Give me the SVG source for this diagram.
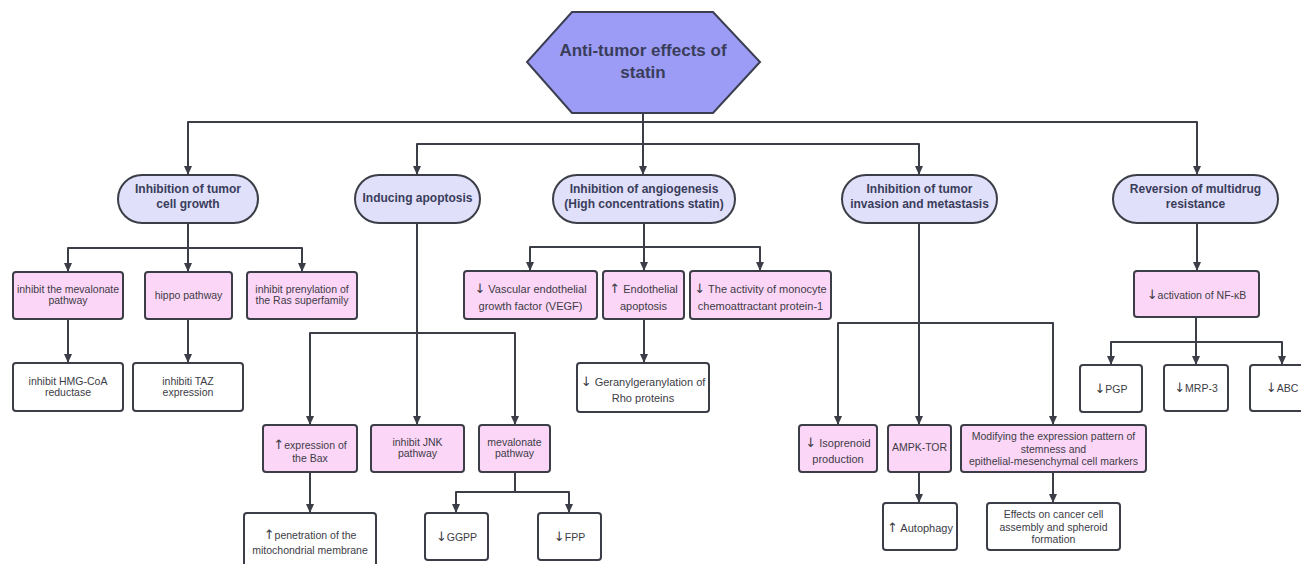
<svg xmlns="http://www.w3.org/2000/svg" width="1301" height="564" viewBox="0 0 1301 564">
<defs>
<marker id="ah" markerUnits="userSpaceOnUse" markerWidth="10" markerHeight="10" viewBox="0 0 10 10" refX="9" refY="5" orient="auto">
<path d="M0,1 L9,5 L0,9 Z" fill="#3b3e47"/>
</marker>
<style>
.c{fill:none;stroke:#3b3e47;stroke-width:2;stroke-linejoin:round}
.a{marker-end:url(#ah)}
.hex{fill:#9c9cf6;stroke:#3b3e50;stroke-width:2}
.l1{fill:#e0e0fa;stroke:#3b3e47;stroke-width:2}
.pk{fill:#fcd6f7;stroke:#3b3e47;stroke-width:2}
.wh{fill:#ffffff;stroke:#3b3e47;stroke-width:2}
.tt{font-family:"Liberation Sans",Arial,sans-serif;font-weight:bold;font-size:17px;fill:#3a3d5a;text-anchor:middle}
.t1{font-family:"Liberation Sans",Arial,sans-serif;font-weight:bold;font-size:12px;fill:#3a3d5a;text-anchor:middle}
.t{font-family:"Liberation Sans",Arial,sans-serif;font-size:10.5px;fill:#3c3c46;text-anchor:middle}
.tb{font-family:"Liberation Sans",Arial,sans-serif;font-size:11px;fill:#3c3c46;text-anchor:middle}
.ar{font-family:"DejaVu Sans",sans-serif;font-size:13px;fill:#3c3c46}
</style>
</defs>
<rect width="1301" height="564" fill="#ffffff"/>

<g id="connectors">
<path class="c a" d="M643,113 V175"/>
<path class="c a" d="M643,122 H188 V175"/>
<path class="c a" d="M643,122 H1197 V175"/>
<path class="c a" d="M643,144 H417 V175"/>
<path class="c a" d="M643,144 H919 V175"/>

<path class="c a" d="M188,223 V272"/>
<path class="c a" d="M188,248 H68 V272"/>
<path class="c a" d="M188,248 H302 V272"/>
<path class="c a" d="M68,319 V363"/>
<path class="c a" d="M188,319 V363"/>

<path class="c a" d="M417,223 V425"/>
<path class="c a" d="M417,333 H310 V425"/>
<path class="c a" d="M417,333 H515 V425"/>
<path class="c a" d="M310,472 V513"/>
<path class="c" d="M515,472 V492"/>
<path class="c a" d="M515,492 H456 V513"/>
<path class="c a" d="M515,492 H569 V513"/>

<path class="c a" d="M644,223 V271"/>
<path class="c a" d="M644,247 H530 V271"/>
<path class="c a" d="M644,247 H760 V271"/>
<path class="c a" d="M644,319 V363"/>

<path class="c a" d="M919,223 V425"/>
<path class="c a" d="M919,323 H838 V425"/>
<path class="c a" d="M919,323 H1053 V425"/>
<path class="c a" d="M919,472 V503"/>
<path class="c a" d="M1053,472 V503"/>

<path class="c a" d="M1197,223 V271"/>
<path class="c a" d="M1196,317 V365"/>
<path class="c a" d="M1196,342 H1111 V365"/>
<path class="c a" d="M1196,342 H1282 V365"/>
</g>

<g id="root">
<polygon class="hex" points="572,12 713,12 760,62 713,113 572,113 527,62"/>
<text class="tt" x="643" y="56">Anti-tumor effects of</text>
<text class="tt" x="643" y="78">statin</text>
</g>

<g id="n-growth">
<rect class="l1" x="118" y="175" width="140" height="48" rx="24"/>
<text class="t1" x="188" y="193">Inhibition of tumor</text>
<text class="t1" x="188" y="208">cell growth</text>
</g>
<g id="n-apoptosis">
<rect class="l1" x="355" y="175" width="125" height="48" rx="24"/>
<text class="t1" x="417.5" y="202">Inducing apoptosis</text>
</g>
<g id="n-angio">
<rect class="l1" x="553" y="175" width="182" height="48" rx="24"/>
<text class="t1" x="644" y="193">Inhibition of angiogenesis</text>
<text class="t1" x="644" y="208">(High concentrations statin)</text>
</g>
<g id="n-invasion">
<rect class="l1" x="842" y="175" width="155" height="48" rx="24"/>
<text class="t1" x="919.5" y="193">Inhibition of tumor</text>
<text class="t1" x="919.5" y="208">invasion and metastasis</text>
</g>
<g id="n-mdr">
<rect class="l1" x="1113" y="175" width="165" height="48" rx="24"/>
<text class="t1" x="1195.5" y="193">Reversion of multidrug</text>
<text class="t1" x="1195.5" y="208">resistance</text>
</g>

<g id="n-mevalonate">
<rect class="pk" x="13" y="272" width="110" height="47" rx="3"/>
<text class="t" x="68" y="293">inhibit the mevalonate</text>
<text class="t" x="68" y="304">pathway</text>
</g>
<g id="n-hippo">
<rect class="pk" x="145" y="272" width="87" height="47" rx="3"/>
<text class="t" x="188.5" y="299">hippo pathway</text>
</g>
<g id="n-prenyl">
<rect class="pk" x="247" y="272" width="110" height="47" rx="3"/>
<text class="t" x="302" y="293">inhibit prenylation of</text>
<text class="t" x="302" y="304">the Ras superfamily</text>
</g>
<g id="n-hmg">
<rect class="wh" x="13" y="363" width="110" height="48" rx="3"/>
<text class="t" x="68" y="385">inhibit HMG-CoA</text>
<text class="t" x="68" y="395.5">reductase</text>
</g>
<g id="n-taz">
<rect class="wh" x="133" y="363" width="110" height="48" rx="3"/>
<text class="t" x="188" y="385">inhibiti TAZ</text>
<text class="t" x="188" y="395.5">expression</text>
</g>

<g id="n-bax">
<rect class="pk" x="263" y="425" width="94" height="47" rx="3"/>
<text class="t" x="310" y="449"><tspan class="ar">↑</tspan>expression of</text>
<text class="t" x="310" y="462">the Bax</text>
</g>
<g id="n-jnk">
<rect class="pk" x="371" y="425" width="93" height="47" rx="3"/>
<text class="t" x="417.5" y="446">inhibit JNK</text>
<text class="t" x="417.5" y="457">pathway</text>
</g>
<g id="n-mevpath">
<rect class="pk" x="479" y="425" width="71" height="47" rx="3"/>
<text class="t" x="514.5" y="446">mevalonate</text>
<text class="t" x="514.5" y="457">pathway</text>
</g>
<g id="n-penetration">
<rect class="wh" x="244" y="513" width="132" height="56" rx="3"/>
<text class="t" x="310" y="539"><tspan class="ar">↑</tspan>penetration of the</text>
<text class="t" x="310" y="554">mitochondrial membrane</text>
</g>
<g id="n-ggpp">
<rect class="wh" x="425" y="513" width="63" height="47" rx="3"/>
<text class="t" x="456.5" y="541"><tspan class="ar">↓</tspan>GGPP</text>
</g>
<g id="n-fpp">
<rect class="wh" x="538" y="513" width="63" height="47" rx="3"/>
<text class="t" x="569.5" y="541"><tspan class="ar">↓</tspan>FPP</text>
</g>

<g id="n-vegf">
<rect class="pk" x="464" y="271" width="133" height="48" rx="3"/>
<text class="tb" x="530.5" y="293"><tspan class="ar">↓</tspan> Vascular endothelial</text>
<text class="tb" x="530.5" y="310">growth factor (VEGF)</text>
</g>
<g id="n-endo">
<rect class="pk" x="603" y="271" width="81" height="48" rx="3"/>
<text class="tb" x="643.5" y="293"><tspan class="ar">↑</tspan> Endothelial</text>
<text class="tb" x="643.5" y="310">apoptosis</text>
</g>
<g id="n-mcp">
<rect class="pk" x="690" y="271" width="141" height="48" rx="3"/>
<text class="tb" x="760.5" y="293"><tspan class="ar">↓</tspan> The activity of monocyte</text>
<text class="tb" x="760.5" y="310">chemoattractant protein-1</text>
</g>
<g id="n-rho">
<rect class="wh" x="577" y="363" width="132" height="49" rx="3"/>
<text class="tb" x="643" y="386"><tspan class="ar">↓</tspan> Geranylgeranylation of</text>
<text class="tb" x="643" y="402">Rho proteins</text>
</g>

<g id="n-isoprenoid">
<rect class="pk" x="799" y="425" width="78" height="47" rx="3"/>
<text class="tb" x="838" y="447"><tspan class="ar">↓</tspan> Isoprenoid</text>
<text class="tb" x="838" y="463">production</text>
</g>
<g id="n-ampk">
<rect class="pk" x="888" y="425" width="63" height="47" rx="3"/>
<text class="t" x="919.5" y="451">AMPK-TOR</text>
</g>
<g id="n-modifying">
<rect class="pk" x="961" y="425" width="185" height="47" rx="3"/>
<text class="t" x="1053.5" y="440">Modifying the expression pattern of</text>
<text class="t" x="1053.5" y="452.5">stemness and</text>
<text class="t" x="1053.5" y="465">epithelial-mesenchymal cell markers</text>
</g>
<g id="n-autophagy">
<rect class="wh" x="883" y="503" width="74" height="47" rx="3"/>
<text class="tb" x="920" y="532"><tspan class="ar">↑</tspan> Autophagy</text>
</g>
<g id="n-effects">
<rect class="wh" x="987" y="503" width="133" height="47" rx="3"/>
<text class="t" x="1053.5" y="518">Effects on cancer cell</text>
<text class="t" x="1053.5" y="530.5">assembly and spheroid</text>
<text class="t" x="1053.5" y="543">formation</text>
</g>

<g id="n-nfkb">
<rect class="pk" x="1134" y="271" width="125" height="46" rx="3"/>
<text class="t" x="1196.5" y="299"><tspan class="ar">↓</tspan>activation of NF-κB</text>
</g>
<g id="n-pgp">
<rect class="wh" x="1080" y="365" width="62" height="47" rx="3"/>
<text class="t" x="1111" y="393"><tspan class="ar">↓</tspan>PGP</text>
</g>
<g id="n-mrp">
<rect class="wh" x="1164" y="365" width="64" height="46" rx="3"/>
<text class="t" x="1196" y="392"><tspan class="ar">↓</tspan>MRP-3</text>
</g>
<g id="n-abc">
<rect class="wh" x="1250" y="365" width="64" height="46" rx="3"/>
<text class="t" x="1282" y="392"><tspan class="ar">↓</tspan>ABC</text>
</g>
</svg>
